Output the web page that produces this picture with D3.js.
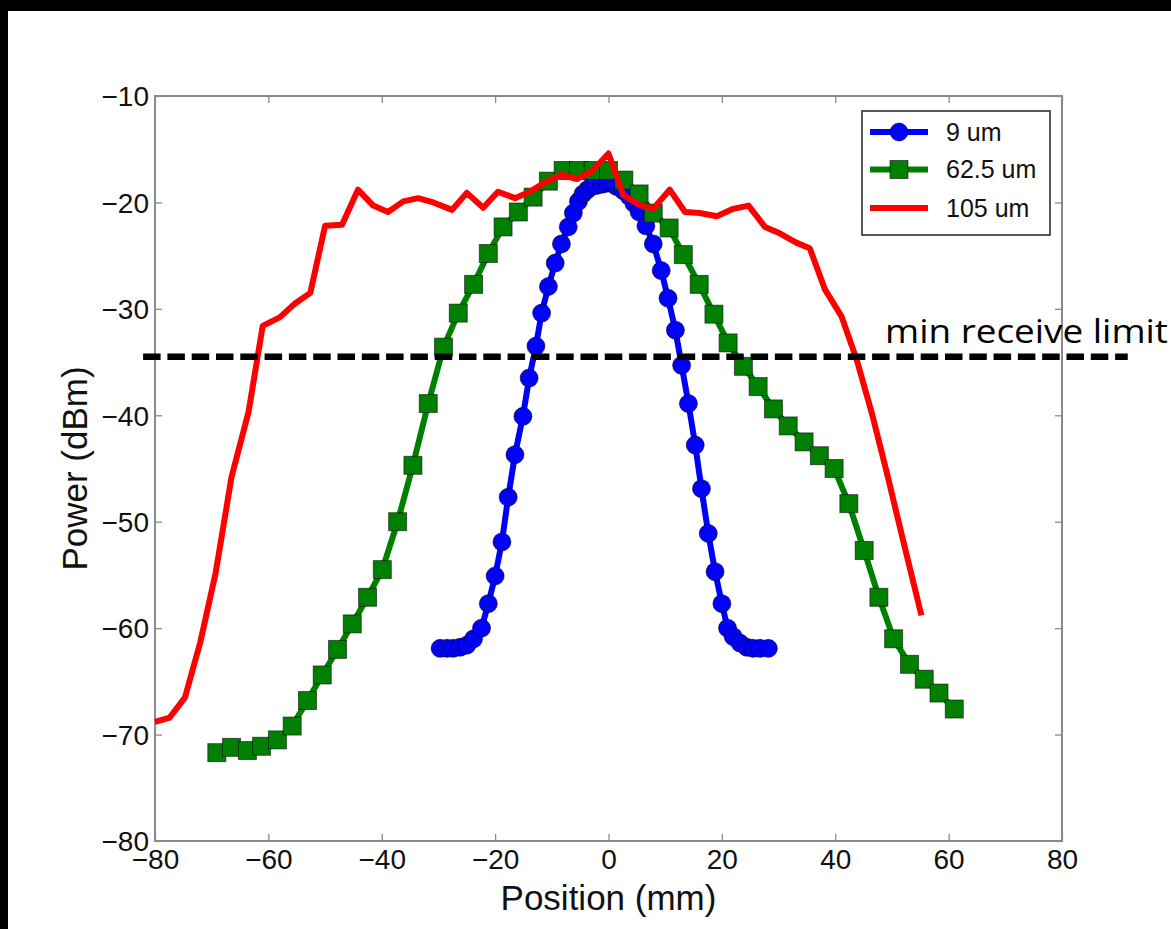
<!DOCTYPE html>
<html>
<head>
<meta charset="utf-8">
<script src="https://cdn.jsdelivr.net/npm/d3@7"></script>
<style>
  html, body { margin: 0; padding: 0; background: #fff; }
  svg { display: block; }
</style>
</head>
<body>
<svg id="chart" width="1171" height="929"></svg>
<script>
// ---------- data ----------
const xTicks = [-80, -60, -40, -20, 0, 20, 40, 60, 80];
const yTicks = [-80, -70, -60, -50, -40, -30, -20, -10];

const seriesNames = ["9 um", "62.5 um", "105 um"];

const blueX = [-29.7,-28.5,-27.4,-26.2,-25.0,-23.8,-22.4,-21.2,-20.0,-18.8,-17.7,-16.5,-15.1,-14.0,-12.8,-11.8,-10.6,-9.4,-8.3,-7.1,-6.2,-5.3,-4.5,-3.7,-3.0,-2.1,-1.2,-0.3,0.6,1.4,2.6,3.6,4.5,5.4,6.6,7.9,9.3,10.5,11.8,12.9,14.1,15.3,16.4,17.6,18.8,20.0,21.0,22.0,23.2,24.4,25.5,26.7,28.2];
const blueY = [-61.9,-61.9,-61.9,-61.8,-61.6,-61.0,-60.0,-57.7,-55.1,-51.9,-47.7,-43.7,-40.1,-36.5,-33.5,-30.4,-27.9,-25.7,-23.9,-22.3,-21.0,-19.9,-19.2,-18.8,-18.5,-18.4,-18.3,-18.2,-18.2,-18.5,-18.9,-19.4,-20.1,-20.9,-22.2,-23.9,-26.4,-29.0,-32.0,-35.3,-38.9,-42.8,-46.9,-51.1,-54.7,-57.7,-60.0,-60.8,-61.4,-61.8,-61.9,-61.9,-61.9];

const greenX = [-69.1,-66.5,-63.7,-61.2,-58.4,-55.8,-53.1,-50.5,-47.8,-45.2,-42.5,-39.9,-37.2,-34.5,-31.8,-29.1,-26.5,-23.8,-21.2,-18.6,-15.9,-13.3,-10.6,-8.0,-5.3,-2.7,0,2.7,5.4,7.9,10.7,13.2,16.0,18.6,21.1,23.8,26.4,29.1,31.7,34.5,37.2,39.8,42.4,45.1,47.7,50.3,53.1,55.7,58.3,61.0];
const greenY = [-71.7,-71.2,-71.5,-71.1,-70.5,-69.2,-66.8,-64.4,-62.0,-59.6,-57.1,-54.5,-50.0,-44.7,-38.9,-33.6,-30.4,-27.7,-24.8,-22.3,-20.9,-19.5,-18.0,-17.0,-17.0,-17.0,-17.0,-17.9,-19.2,-21.0,-22.4,-24.9,-27.7,-30.5,-33.2,-35.4,-37.3,-39.4,-41.0,-42.5,-43.8,-45.0,-48.3,-52.7,-57.1,-61.0,-63.4,-64.8,-66.1,-67.6];

const redX = [-80,-77.4,-74.7,-72.0,-69.3,-66.5,-63.5,-61.0,-58.0,-55.3,-52.6,-50.0,-47.0,-44.2,-41.5,-38.9,-36.2,-33.6,-30.9,-27.6,-25.0,-22.1,-19.5,-16.5,-13.9,-11.2,-8.3,-5.6,-3.0,0,2.6,5.3,7.9,10.8,13.5,16.1,19.1,22.0,24.7,27.6,30.2,33.2,35.5,38.2,41.1,43.8,46.4,49.1,51.9,55.2];
const redY = [-68.8,-68.4,-66.5,-61.3,-54.8,-45.8,-39.7,-31.6,-30.8,-29.5,-28.5,-22.2,-22.1,-18.8,-20.3,-20.9,-19.9,-19.6,-20.0,-20.7,-19.1,-20.5,-19.0,-19.6,-19.0,-18.1,-17.4,-17.8,-17.1,-15.4,-19.3,-20.2,-20.6,-18.8,-20.9,-21.0,-21.3,-20.6,-20.3,-22.3,-22.9,-23.8,-24.3,-28.2,-30.7,-34.8,-39.7,-45.4,-51.6,-58.8];

const limitValue = -34.5;
const limitRange = [-82.1, 91.6];
const limitLabel = "min receive limit";

// ---------- layout ----------
const svg = d3.select("#chart");
const W = 1171, H = 929;
const L = 155, R = 1062, T = 96, B = 841;

svg.append("rect").attr("x", 0).attr("y", 0).attr("width", W).attr("height", H).attr("fill", "#fff");
// black frame bands (screenshot border)
svg.append("rect").attr("x", 0).attr("y", 0).attr("width", W).attr("height", 11).attr("fill", "#000");
svg.append("rect").attr("x", 0).attr("y", 0).attr("width", 8).attr("height", H).attr("fill", "#000");

const x = d3.scaleLinear().domain([-80, 80]).range([L, R]);
const y = d3.scaleLinear().domain([-80, -10]).range([B, T]);

const fmt = d3.format("d");
const spineColor = "#8a8a8a";
const tickFont = "'Liberation Sans', Arial, Helvetica, sans-serif";

// axes (bottom / left with labels, top / right ticks only, inward ticks)
const gB = svg.append("g").attr("transform", `translate(0,${B})`)
  .call(d3.axisBottom(x).tickValues(xTicks).tickFormat(fmt).tickSizeInner(-7).tickSizeOuter(0).tickPadding(8));
const gT = svg.append("g").attr("transform", `translate(0,${T})`)
  .call(d3.axisTop(x).tickValues(xTicks).tickFormat("").tickSizeInner(-7).tickSizeOuter(0));
const gL = svg.append("g").attr("transform", `translate(${L},0)`)
  .call(d3.axisLeft(y).tickValues(yTicks).tickFormat(fmt).tickSizeInner(-7).tickSizeOuter(0).tickPadding(6));
const gR = svg.append("g").attr("transform", `translate(${R},0)`)
  .call(d3.axisRight(y).tickValues(yTicks).tickFormat("").tickSizeInner(-7).tickSizeOuter(0));

[gB, gT, gL, gR].forEach(g => {
  g.select(".domain").remove();
  g.selectAll(".tick line").attr("stroke", spineColor).attr("stroke-width", 1.3);
  g.selectAll(".tick text").attr("fill", "#111").attr("font-family", tickFont).attr("font-size", 28);
});
gB.selectAll(".tick text").attr("dy", "0.71em");
gL.selectAll(".tick text").attr("dy", "0.35em");

// frame
svg.append("rect").attr("x", L).attr("y", T).attr("width", R - L).attr("height", B - T)
  .attr("fill", "none").attr("stroke", spineColor).attr("stroke-width", 2);

// axis labels
svg.append("text").attr("x", (L + R) / 2).attr("y", 910).attr("text-anchor", "middle")
  .attr("font-family", tickFont).attr("font-size", 35).attr("fill", "#111").text("Position (mm)");
svg.append("text").attr("transform", `translate(87,${(T + B) / 2}) rotate(-90)`).attr("text-anchor", "middle")
  .attr("font-family", tickFont).attr("font-size", 35).attr("fill", "#111").text("Power (dBm)");

// ---------- series ----------
const plot = svg.append("g");
const line = d3.line().x(d => x(d[0])).y(d => y(d[1]));

const blue = d3.zip(blueX, blueY);
const green = d3.zip(greenX, greenY);
const red = d3.zip(redX, redY);

const colBlue = "#0000ff", colGreen = "#008000", colRed = "#ff0000";

plot.append("path").datum(blue).attr("d", line).attr("fill", "none")
  .attr("stroke", colBlue).attr("stroke-width", 6).attr("stroke-linejoin", "round");
plot.append("g").selectAll("circle").data(blue).join("circle")
  .attr("cx", d => x(d[0])).attr("cy", d => y(d[1])).attr("r", 9)
  .attr("fill", colBlue).attr("stroke", "#000").attr("stroke-opacity", 0.55).attr("stroke-width", 1);

plot.append("path").datum(green).attr("d", line).attr("fill", "none")
  .attr("stroke", colGreen).attr("stroke-width", 6).attr("stroke-linejoin", "round");
plot.append("g").selectAll("rect").data(green).join("rect")
  .attr("x", d => x(d[0]) - 9).attr("y", d => y(d[1]) - 9).attr("width", 18).attr("height", 18)
  .attr("fill", colGreen).attr("stroke", "#000").attr("stroke-opacity", 0.55).attr("stroke-width", 1);

plot.append("path").datum(red).attr("d", line).attr("fill", "none")
  .attr("stroke", colRed).attr("stroke-width", 6).attr("stroke-linejoin", "round");

// ---------- legend ----------
const lg = svg.append("g");
lg.append("rect").attr("x", 862).attr("y", 111).attr("width", 188).attr("height", 124)
  .attr("fill", "#fff").attr("stroke", "#222").attr("stroke-width", 1.5);
const rowsY = [132, 169.5, 208];
const cols = [colBlue, colGreen, colRed];
seriesNames.forEach((name, i) => {
  const ry = rowsY[i];
  lg.append("line").attr("x1", 870).attr("x2", 928).attr("y1", ry).attr("y2", ry)
    .attr("stroke", cols[i]).attr("stroke-width", 6);
  if (i === 0) {
    lg.append("circle").attr("cx", 899).attr("cy", ry).attr("r", 9)
      .attr("fill", colBlue).attr("stroke", "#000").attr("stroke-opacity", 0.55).attr("stroke-width", 1);
  } else if (i === 1) {
    lg.append("rect").attr("x", 890).attr("y", ry - 9).attr("width", 18).attr("height", 18)
      .attr("fill", colGreen).attr("stroke", "#000").attr("stroke-opacity", 0.55).attr("stroke-width", 1);
  }
  lg.append("text").attr("x", 946).attr("y", ry).attr("dy", "0.35em")
    .attr("font-family", tickFont).attr("font-size", 25).attr("fill", "#111").text(name);
});

// ---------- annotation ----------
svg.append("line")
  .attr("x1", x(limitRange[0])).attr("x2", x(limitRange[1]))
  .attr("y1", y(limitValue)).attr("y2", y(limitValue))
  .attr("stroke", "#000").attr("stroke-width", 6.5).attr("stroke-dasharray", "17.5 6.8");
svg.append("text").attr("x", 885).attr("y", 343)
  .attr("font-family", "'Open Sans', Lato, sans-serif").attr("font-size", 33).attr("fill", "#000")
  .attr("textLength", 283).attr("lengthAdjust", "spacingAndGlyphs")
  .text(limitLabel);
</script>
</body>
</html>
